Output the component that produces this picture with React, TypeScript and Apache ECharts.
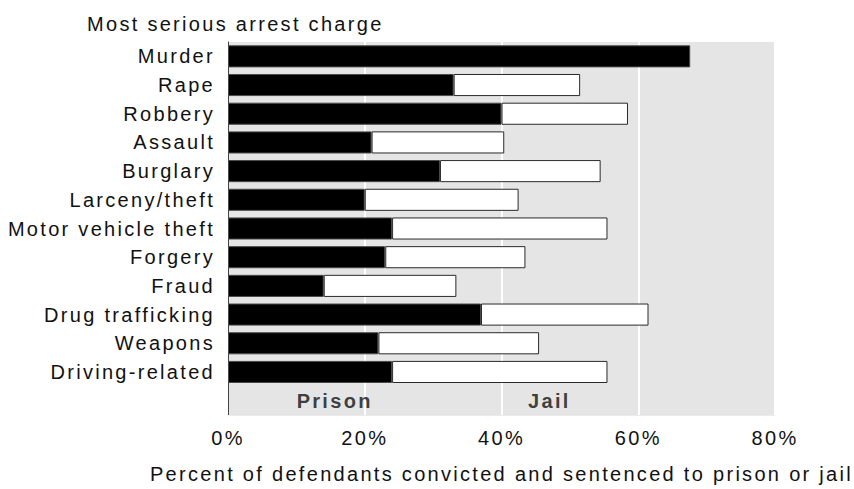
import React, { useEffect, useRef } from "react";
import * as echarts from "echarts";

const categories = [
  "Murder",
  "Rape",
  "Robbery",
  "Assault",
  "Burglary",
  "Larceny/theft",
  "Motor vehicle theft",
  "Forgery",
  "Fraud",
  "Drug trafficking",
  "Weapons",
  "Driving-related",
  "",
];
const prisonValues = [67.6, 33.0, 40.0, 21.0, 31.0, 20.0, 24.0, 23.0, 14.0, 37.0, 22.0, 24.0];
const jailValues = [0, 18.5, 18.5, 19.4, 23.5, 22.5, 31.5, 20.5, 19.4, 24.5, 23.5, 31.5];
const xTicks = [0, 20, 40, 60, 80];
const bandLabels = ["Prison", "Jail"];
const bandLabelX = [15.6, 47.0];

const FONT = "'Liberation Sans', Arial, Helvetica, sans-serif";

export default function App() {
  const ref = useRef<HTMLDivElement>(null);
  useEffect(() => {
    if (!ref.current) return;
    const chart = echarts.init(ref.current, null, { renderer: "svg" });
    const labelRow = categories.length - 1;
    chart.setOption({
      animation: false,
      textStyle: { fontFamily: FONT },
      title: {
        text: "Most serious arrest charge",
        left: 82,
        top: 9,
        textStyle: { fontFamily: FONT, fontSize: 20, fontWeight: "normal", color: "#111" },
      },
      grid: {
        left: 228,
        right: 79,
        top: 42,
        bottom: 68,
        show: true,
        backgroundColor: "#e5e5e5",
        borderWidth: 0,
      },
      xAxis: {
        type: "value",
        min: xTicks[0],
        max: xTicks[xTicks.length - 1],
        interval: 20,
        axisLine: { show: true, lineStyle: { color: "#ececec", width: 1 } },
        axisTick: { show: false },
        splitLine: { show: true, lineStyle: { color: "#ffffff", width: 2 } },
        axisLabel: {
          formatter: "{value}%",
          fontFamily: FONT,
          fontSize: 20,
          color: "#111",
          margin: 13,
        },
        name: "Percent of defendants convicted and sentenced to prison or jail",
        nameLocation: "middle",
        nameGap: 49,
        nameTextStyle: { fontFamily: FONT, fontSize: 20, color: "#111" },
      },
      yAxis: {
        type: "category",
        data: categories,
        inverse: true,
        axisLine: { show: true, lineStyle: { color: "#444", width: 1 } },
        axisTick: { show: false },
        splitLine: { show: false },
        axisLabel: {
          fontFamily: FONT,
          fontSize: 20,
          color: "#111",
          margin: 13,
          padding: [0, 0, 9, 0],
        },
      },
      series: [
        {
          type: "bar",
          name: "Prison",
          stack: "total",
          barCategoryGap: "23%",
          data: prisonValues,
          itemStyle: { color: "#000", borderColor: "#4a4a4a", borderWidth: 1 },
        },
        {
          type: "bar",
          name: "Jail",
          stack: "total",
          barCategoryGap: "23%",
          data: jailValues.map((v) => (v === 0 ? "-" : v)),
          itemStyle: { color: "#fff", borderColor: "#2a2a2a", borderWidth: 1 },
        },
        {
          type: "scatter",
          symbolSize: 0,
          silent: true,
          data: bandLabels.map((name, i) => ({ name, value: [bandLabelX[i], labelRow] })),
          label: {
            show: true,
            position: "inside",
            formatter: (p: any) => p.name,
            fontFamily: FONT,
            fontSize: 20,
            fontWeight: "bold",
            color: "#111",
          },
        },
      ],
    });
    return () => chart.dispose();
  }, []);
  return (
    <>
      <style>{"#chart text{letter-spacing:2.3px}"}</style>
      <div
        id="chart"
        ref={ref}
        style={{ position: "absolute", left: 0, top: 0, width: 854, height: 489 }}
      />
    </>
  );
}
